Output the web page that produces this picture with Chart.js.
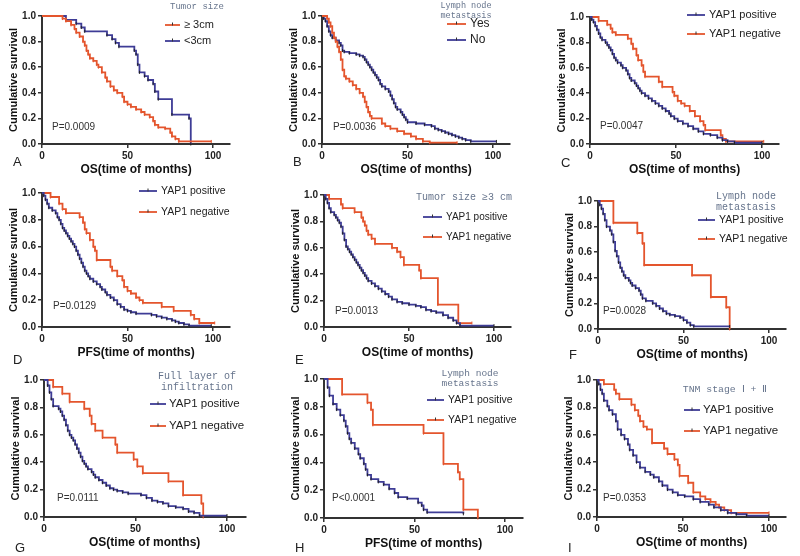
<!DOCTYPE html>
<html>
<head>
<meta charset="utf-8">
<script src="https://cdn.jsdelivr.net/npm/chart.js@4.4.0/dist/chart.umd.min.js"></script>
<style>
  html, body { margin: 0; padding: 0; background: #fff; overflow: hidden; }
  #page { position: relative; width: 800px; height: 556px; }
  canvas { position: absolute; }
</style>
</head>
<body>
<div id="page"></div>
<script>
// Kaplan-Meier curves, each point is [months, cumulative survival]
// A - tumor size
const sizeLarge = [[0,1],[12,0.98],[14,0.96],[17,0.93],[19,0.9],[20,0.87],[22,0.84],[24,0.8],[25,0.77],[26,0.73],[27,0.7],[28,0.67],[30,0.65],[32,0.62],[33,0.6],[35,0.56],[37,0.52],[38,0.49],[40,0.45],[42,0.42],[44,0.4],[47,0.37],[48,0.33],[50,0.31],[52,0.29],[55,0.27],[58,0.25],[60,0.23],[63,0.21],[65,0.18],[66,0.15],[68,0.13],[72,0.12],[75,0.09],[76,0.06],[78,0.04],[80,0.02],[99,0.02]];
const sizeSmall = [[0,1],[14,0.97],[20,0.94],[23,0.91],[25,0.88],[38,0.85],[41,0.82],[43,0.79],[45,0.76],[54,0.73],[55,0.7],[56,0.62],[57,0.56],[60,0.53],[62,0.5],[65,0.47],[66,0.41],[68,0.35],[76,0.23],[86,0.2],[87,0]];
// B - lymph node metastasis
const lnYes = [[0,1],[3,0.98],[4,0.95],[5,0.92],[6,0.87],[7,0.83],[8,0.8],[9,0.76],[10,0.72],[11,0.66],[12,0.58],[13,0.53],[14,0.51],[16,0.49],[18,0.46],[20,0.43],[22,0.4],[24,0.37],[25,0.33],[26,0.29],[27,0.25],[28,0.22],[29,0.2],[35,0.16],[37,0.14],[40,0.12],[44,0.1],[48,0.08],[52,0.06],[55,0.04],[59,0.02],[63,0.01],[79,0.01]];
const lnNo = [[0,1],[1,0.98],[2,0.96],[3,0.92],[4,0.88],[5,0.85],[6,0.83],[8,0.81],[10,0.79],[11,0.77],[12,0.73],[13,0.72],[16,0.71],[20,0.7],[22,0.69],[24,0.68],[25,0.66],[26,0.64],[27,0.62],[28,0.6],[29,0.58],[30,0.56],[31,0.54],[32,0.52],[33,0.5],[34,0.47],[35,0.45],[37,0.43],[39,0.41],[40,0.38],[41,0.35],[42,0.32],[43,0.29],[44,0.27],[46,0.25],[47,0.23],[48,0.21],[49,0.19],[50,0.17],[55,0.16],[60,0.15],[64,0.14],[66,0.12],[68,0.11],[70,0.1],[72,0.09],[74,0.08],[76,0.07],[78,0.06],[80,0.05],[82,0.04],[84,0.03],[87,0.02],[102,0.02]];
// C - OS by YAP1
const osPos = [[0,1],[1,0.98],[2,0.96],[3,0.93],[4,0.9],[5,0.87],[6,0.84],[7,0.82],[9,0.8],[10,0.78],[11,0.76],[12,0.74],[13,0.71],[14,0.68],[15,0.66],[16,0.64],[18,0.62],[19,0.6],[21,0.58],[22,0.55],[23,0.52],[24,0.5],[26,0.48],[27,0.46],[28,0.44],[29,0.42],[30,0.4],[32,0.38],[34,0.36],[36,0.34],[38,0.32],[40,0.3],[42,0.28],[44,0.26],[46,0.24],[47,0.22],[49,0.2],[51,0.18],[54,0.16],[57,0.14],[60,0.12],[63,0.1],[66,0.08],[70,0.07],[74,0.05],[77,0.03],[80,0.02],[84,0.01],[100,0.01]];
const osNeg = [[0,1],[5,0.97],[10,0.94],[12,0.91],[13,0.88],[15,0.86],[22,0.83],[24,0.79],[25,0.75],[27,0.7],[28,0.66],[30,0.62],[31,0.57],[32,0.53],[40,0.49],[42,0.45],[48,0.41],[49,0.38],[51,0.34],[53,0.32],[55,0.3],[58,0.26],[61,0.22],[64,0.18],[66,0.15],[67,0.11],[76,0.07],[77,0.04],[79,0.02],[101,0.02]];
// D - PFS by YAP1
const pfsPos = [[0,1],[1,0.98],[2,0.95],[3,0.92],[4,0.89],[6,0.87],[8,0.85],[9,0.82],[10,0.8],[11,0.77],[12,0.74],[13,0.72],[14,0.7],[15,0.68],[16,0.66],[17,0.64],[18,0.62],[19,0.6],[20,0.57],[21,0.54],[22,0.51],[23,0.48],[24,0.45],[25,0.42],[26,0.4],[27,0.38],[28,0.36],[30,0.34],[32,0.32],[34,0.3],[35,0.28],[37,0.26],[38,0.24],[40,0.22],[42,0.2],[44,0.17],[46,0.15],[48,0.13],[50,0.12],[52,0.11],[55,0.1],[64,0.09],[67,0.08],[70,0.07],[73,0.06],[76,0.05],[78,0.04],[80,0.03],[83,0.02],[86,0.01],[99,0.01]];
const pfsNeg = [[0,1],[5,0.97],[10,0.92],[12,0.88],[14,0.85],[22,0.82],[24,0.78],[25,0.73],[26,0.7],[28,0.65],[30,0.6],[31,0.57],[32,0.5],[40,0.45],[41,0.42],[44,0.38],[47,0.35],[48,0.3],[50,0.27],[52,0.25],[55,0.22],[57,0.2],[59,0.18],[70,0.15],[77,0.12],[87,0.09],[89,0.06],[92,0.03],[101,0.03]];
// E - tumor size >= 3 cm
const bigPos = [[0,1],[1,0.97],[2,0.94],[3,0.9],[4,0.87],[6,0.85],[7,0.83],[8,0.81],[9,0.79],[10,0.76],[11,0.71],[12,0.66],[13,0.61],[14,0.59],[15,0.57],[16,0.55],[17,0.53],[18,0.51],[19,0.49],[20,0.47],[21,0.45],[22,0.43],[23,0.41],[24,0.39],[25,0.37],[26,0.35],[28,0.33],[30,0.31],[32,0.29],[34,0.27],[36,0.25],[38,0.23],[40,0.21],[43,0.19],[46,0.18],[50,0.17],[54,0.16],[57,0.15],[60,0.13],[63,0.12],[66,0.11],[70,0.09],[73,0.07],[76,0.05],[78,0.03],[80,0.01],[100,0.01]];
const bigNeg = [[0,1],[3,0.97],[10,0.93],[11,0.9],[18,0.87],[22,0.83],[23,0.8],[24,0.77],[25,0.73],[26,0.7],[28,0.67],[30,0.63],[40,0.6],[43,0.57],[45,0.53],[47,0.47],[56,0.43],[57,0.37],[67,0.17],[79,0.03],[87,0.03]];
// F - OS, lymph node metastasis
const lnOsPos = [[0,1],[1,0.97],[2,0.94],[3,0.9],[4,0.85],[5,0.8],[7,0.77],[8,0.74],[9,0.68],[10,0.61],[11,0.57],[12,0.52],[13,0.48],[14,0.45],[15,0.42],[16,0.4],[18,0.38],[19,0.36],[20,0.34],[22,0.32],[24,0.3],[25,0.27],[26,0.24],[28,0.22],[32,0.2],[34,0.18],[36,0.16],[38,0.14],[40,0.12],[42,0.11],[45,0.1],[48,0.09],[50,0.07],[52,0.05],[54,0.03],[56,0.02],[77,0.02]];
const lnOsNeg = [[0,1],[9,0.83],[23,0.75],[26,0.67],[27,0.5],[55,0.42],[66,0.25],[75,0.17],[77,0]];
// G - full layer of infiltration
const fullPos = [[0,1],[2,0.96],[3,0.91],[4,0.86],[5,0.81],[8,0.79],[9,0.77],[10,0.74],[11,0.71],[12,0.67],[13,0.63],[14,0.6],[15,0.58],[16,0.56],[17,0.53],[18,0.5],[19,0.47],[20,0.44],[21,0.41],[22,0.39],[23,0.37],[24,0.35],[26,0.33],[27,0.31],[28,0.29],[30,0.27],[32,0.25],[34,0.23],[36,0.21],[38,0.2],[40,0.19],[43,0.18],[46,0.17],[53,0.16],[56,0.14],[59,0.12],[62,0.11],[65,0.1],[68,0.08],[72,0.07],[76,0.06],[79,0.04],[82,0.03],[85,0.01],[100,0.01]];
const fullNeg = [[0,1],[5,0.95],[10,0.9],[14,0.84],[22,0.79],[25,0.74],[26,0.68],[28,0.63],[32,0.58],[39,0.53],[40,0.47],[49,0.42],[51,0.37],[54,0.32],[68,0.26],[76,0.16],[86,0.1],[87,0]];
// H - PFS, lymph node metastasis
const lnPfsPos = [[0,1],[2,0.94],[3,0.88],[5,0.82],[7,0.78],[9,0.74],[11,0.7],[12,0.66],[13,0.61],[14,0.57],[15,0.54],[17,0.5],[19,0.46],[20,0.43],[22,0.39],[23,0.35],[24,0.31],[26,0.28],[30,0.26],[33,0.24],[36,0.21],[39,0.18],[41,0.15],[46,0.14],[52,0.11],[54,0.09],[55,0.06],[57,0.04],[77,0.03]];
const lnPfsNeg = [[0,1],[10,0.89],[24,0.83],[26,0.78],[27,0.67],[55,0.61],[66,0.39],[74,0.33],[75,0.28],[77,0.06],[85,0]];
// I - TNM stage I + II
const earlyPos = [[0,1],[1,0.97],[2,0.93],[3,0.9],[4,0.85],[6,0.81],[7,0.78],[9,0.75],[11,0.7],[12,0.64],[14,0.6],[16,0.57],[18,0.53],[19,0.49],[21,0.45],[23,0.4],[25,0.36],[28,0.33],[31,0.31],[33,0.29],[36,0.26],[38,0.23],[41,0.2],[44,0.18],[47,0.16],[51,0.15],[56,0.13],[60,0.11],[65,0.09],[68,0.07],[72,0.05],[76,0.03],[81,0.02],[87,0.01],[100,0.01]];
const earlyNeg = [[0,1],[4,0.97],[10,0.93],[11,0.9],[13,0.86],[20,0.82],[22,0.78],[24,0.74],[25,0.7],[27,0.66],[29,0.64],[32,0.54],[39,0.5],[41,0.46],[45,0.42],[47,0.38],[48,0.3],[53,0.25],[56,0.18],[60,0.15],[63,0.13],[66,0.11],[69,0.09],[71,0.07],[74,0.05],[78,0.03],[100,0.03]];

const xTicks = [0, 50, 100];
const yTicks = [0, 0.2, 0.4, 0.6, 0.8, 1.0];
const letters = ["A", "B", "C", "D", "E", "F", "G", "H", "I"];
const pValues = ["P=0.0009", "P=0.0036", "P=0.0047", "P=0.0129", "P=0.0013", "P=0.0028", "P=0.0111", "P<0.0001", "P=0.0353"];
const xTitles = ["OS(time of months)", "OS(time of months)", "OS(time of months)", "PFS(time of months)", "OS(time of months)", "OS(time of months)", "OS(time of months)", "PFS(time of months)", "OS(time of months)"];
const subTitles = [["Tumor size"], ["Lymph node", "metastasis"], [], [], ["Tumor size \u22653 cm"], ["Lymph node", "metastasis"], ["Full layer of", "infiltration"], ["Lymph node", "metastasis"], ["TNM stage \u2160 + \u2161"]];
const yapLabels = ["YAP1 positive", "YAP1 negative"];

const RED = "#e4552d", BLUE = "#3e3c96";
const FONT = '"Liberation Sans", Arial, sans-serif';

// series per panel, in legend order
const series = [
  [[sizeLarge, "\u2265 3cm", RED], [sizeSmall, "<3cm", BLUE]],
  [[lnYes, "Yes", RED], [lnNo, "No", BLUE]],
  [[osPos, yapLabels[0], BLUE], [osNeg, yapLabels[1], RED]],
  [[pfsPos, yapLabels[0], BLUE], [pfsNeg, yapLabels[1], RED]],
  [[bigPos, yapLabels[0], BLUE], [bigNeg, yapLabels[1], RED]],
  [[lnOsPos, yapLabels[0], BLUE], [lnOsNeg, yapLabels[1], RED]],
  [[fullPos, yapLabels[0], BLUE], [fullNeg, yapLabels[1], RED]],
  [[lnPfsPos, yapLabels[0], BLUE], [lnPfsNeg, yapLabels[1], RED]],
  [[earlyPos, yapLabels[0], BLUE], [earlyNeg, yapLabels[1], RED]]
];

// page layout: x of 0 months, x of 100 months, y of 1.0, y of 0.0
const frames = [
  [42, 213, 16, 144], [322, 493, 16, 144], [590, 762, 17, 144],
  [42, 213, 193, 327], [324, 494, 195, 327], [598, 769, 201, 329],
  [44, 227, 380, 517], [324, 505, 379, 518], [597, 769, 380, 517]
];
// letter y, p x, p y
const marks = [
  [162, 52, 127], [162, 333, 127], [163, 600, 126],
  [360, 53, 306], [360, 335, 311], [355, 603, 311],
  [548, 57, 498], [548, 332, 498], [548, 603, 498]
];
// legend: line x1, line x2, text x, row1 y, row2 y, font size
const legends = [
  [165, 180, 184, 25, 41, 11], [447, 466, 470, 24, 40, 12], [687, 705, 709, 15, 34, 11],
  [139, 157, 161, 191, 212, 10.5], [423, 442, 446, 217, 237, 10], [698, 715, 719, 220, 239, 10.5],
  [150, 166, 169, 404, 426, 11.5], [427, 444, 448, 400, 420, 10.5], [684, 700, 703, 410, 431, 11.5]
];
// subtitle: center x, first line y, font size
const subPos = [
  [197, 7, 9], [466, 6, 8.5], [0, 0, 8], [0, 0, 8], [464, 197, 10],
  [746, 196, 10], [197, 376, 10], [470, 373, 9.5], [725, 389, 9.8]
];

const panelText = {
  id: "panelText",
  afterDraw(chart, args, o) {
    const ctx = chart.ctx;
    ctx.save();
    ctx.textBaseline = "middle";
    ctx.textAlign = "left";
    ctx.fillStyle = "#222";
    ctx.font = "13px " + FONT;
    ctx.fillText(o.letter, o.letterX, o.letterY);
    ctx.fillStyle = "#333";
    ctx.font = "10px " + FONT;
    ctx.fillText(o.p, o.pX, o.pY);

    ctx.textAlign = "center";
    ctx.fillStyle = "#66748c";
    ctx.font = o.subSize + 'px "Liberation Mono", monospace';
    o.sub.forEach((s, i) => ctx.fillText(s, o.subX, o.subY + i * (o.subSize + 1)));

    ctx.textAlign = "left";
    ctx.font = o.legSize + "px " + FONT;
    o.legY.forEach((y, i) => {
      const ds = chart.data.datasets[i];
      ctx.strokeStyle = ds.borderColor;
      ctx.lineWidth = 1.8;
      ctx.beginPath();
      ctx.moveTo(o.lx1, y);
      ctx.lineTo(o.lx2, y);
      ctx.stroke();
      const mx = (o.lx1 + o.lx2) / 2;
      ctx.strokeStyle = "#333";
      ctx.lineWidth = 1;
      ctx.beginPath();
      ctx.moveTo(mx, y - 2.5);
      ctx.lineTo(mx, y + 0.5);
      ctx.stroke();
      ctx.fillStyle = "#222";
      ctx.fillText(ds.label, o.tx, y);
    });
    ctx.restore();
  }
};

const page = document.getElementById("page");

series.forEach((ser, k) => {
  const [ox, x100, yTop, yBot] = frames[k];
  const left = ox - 40, top = yTop - 16;
  const right = ox + 1.1 * (x100 - ox);
  const w = Math.ceil(right - left + 12);
  const h = yBot + 40 - top;
  const cv = document.createElement("canvas");
  cv.width = w; cv.height = h;
  cv.style.left = left + "px"; cv.style.top = top + "px";
  cv.style.width = w + "px"; cv.style.height = h + "px";
  page.appendChild(cv);

  const lg = legends[k], sp = subPos[k], mk = marks[k];

  new Chart(cv, {
    type: "line",
    data: {
      datasets: ser.map(([pts, label, color]) => ({
        label: label,
        data: pts.map(p => ({ x: p[0], y: p[1] })),
        stepped: true,
        borderColor: color,
        borderWidth: 1.8,
        fill: false,
        pointStyle: "line",
        rotation: 90,
        pointRadius: c => (c.dataIndex === 0 ? 0 : 1.5),
        pointBorderColor: color === BLUE ? "#222" : color,
        pointBorderWidth: 1,
        clip: 4
      }))
    },
    options: {
      responsive: false,
      animation: false,
      events: [],
      layout: { padding: { left: 0, top: 16, right: w - (right - left), bottom: 0 } },
      plugins: {
        legend: { display: false },
        tooltip: { enabled: false },
        panelText: {
          letter: letters[k], letterX: ox - 29 - left, letterY: mk[0] - top,
          p: pValues[k], pX: mk[1] - left, pY: mk[2] - top,
          sub: subTitles[k], subX: sp[0] - left, subY: sp[1] - top, subSize: sp[2],
          lx1: lg[0] - left, lx2: lg[1] - left, tx: lg[2] - left,
          legY: [lg[3] - top, lg[4] - top], legSize: lg[5]
        }
      },
      scales: {
        x: {
          type: "linear", min: 0, max: 110,
          afterBuildTicks: s => { s.ticks = xTicks.map(v => ({ value: v })); },
          afterFit: s => { s.height = 40; },
          ticks: { font: { family: FONT, size: 10, weight: "bold" }, color: "#222", padding: 2, maxRotation: 0, autoSkip: false },
          grid: { drawOnChartArea: false, drawTicks: true, tickLength: 4, color: "#333", lineWidth: 1.5 },
          border: { display: true, color: "#333", width: 2 },
          title: { display: true, text: xTitles[k], color: "#111", font: { family: FONT, size: 12, weight: "bold" }, padding: { top: 0, bottom: 7 } }
        },
        y: {
          min: 0, max: 1,
          afterBuildTicks: s => { s.ticks = yTicks.map(v => ({ value: v })); },
          afterFit: s => { s.width = 40; },
          ticks: { font: { family: FONT, size: 10, weight: "bold" }, color: "#222", padding: 2, callback: v => v.toFixed(1) },
          grid: { drawOnChartArea: false, drawTicks: true, tickLength: 4, color: "#333", lineWidth: 1.5 },
          border: { display: true, color: "#333", width: 2 },
          title: { display: true, text: "Cumulative survival", color: "#111", font: { family: FONT, size: 11, weight: "bold" }, padding: { top: 5, bottom: 0 } }
        }
      }
    },
    plugins: [panelText]
  });
});
</script>
</body>
</html>
